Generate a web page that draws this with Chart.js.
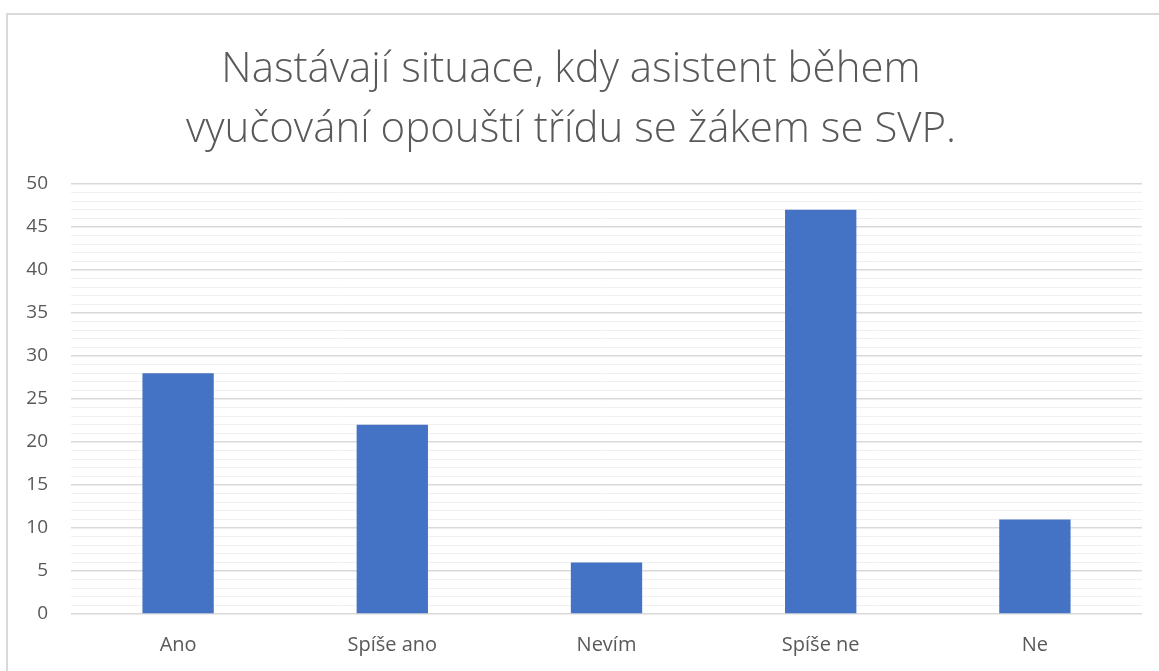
<!DOCTYPE html>
<html>
<head>
<meta charset="utf-8">
<script src="https://cdn.jsdelivr.net/npm/chart.js@4"></script>
<style>
  html, body { margin: 0; padding: 0; background: #fff; }
  #frame { position: absolute; left: 6px; top: 13px; width: 1200px; height: 700px; border: 2px solid #d9d9d9; }
  #wrap { position: absolute; left: 0; top: 0; width: 1159px; height: 671px; }
</style>
</head>
<body>
<div id="frame"></div>
<div id="wrap"><canvas id="chart"></canvas></div>
<script>
const categories = ["Ano", "Spíše ano", "Nevím", "Spíše ne", "Ne"];
const counts = [28, 22, 6, 47, 11];
const titleLines = ["Nastávají situace, kdy asistent během", "vyučování opouští třídu se žákem se SVP."];

const textGrey = "#595959";

new Chart(document.getElementById("chart").getContext("2d"), {
    type: 'bar',
    data: {
        labels: categories,
        datasets: [{ data: counts, backgroundColor: '#4472c4', categoryPercentage: 1, barPercentage: 0.333 }]
    },
    options: {
        responsive: true,
        maintainAspectRatio: false,
        animation: false,
        layout: { padding: { left: 0, right: 17, top: 0, bottom: 0 } },
        plugins: {
            legend: { display: false },
            tooltip: { enabled: false },
            title: {
                display: true,
                text: titleLines,
                color: textGrey,
                font: { family: "'Open Sans', sans-serif", size: 42, weight: 300, lineHeight: 60 / 42 },
                padding: { top: 40, bottom: 24 }
            }
        },
        scales: {
            x: {
                grid: { display: false },
                border: { display: false },
                ticks: { color: textGrey, font: { family: "'Open Sans', sans-serif", size: 20 }, padding: 11 },
                afterFit(scale) { scale.height = 57; }
            },
            y: {
                min: 0,
                max: 50,
                border: { display: false },
                grid: {
                    drawTicks: false,
                    color: ctx => (ctx.tick && ctx.tick.value % 5 === 0) ? '#d9d9d9' : '#f0f0f0',
                    lineWidth: ctx => (ctx.tick && ctx.tick.value % 5 === 0) ? 1.5 : 1
                },
                ticks: {
                    stepSize: 1,
                    autoSkip: false,
                    color: textGrey,
                    font: { family: "'Open Sans', sans-serif", size: 19 },
                    padding: 23,
                    callback: v => v % 5 === 0 ? v : ''
                },
                afterFit(scale) { scale.width = 71; }
            }
        }
    }
});
</script>
</body>
</html>
